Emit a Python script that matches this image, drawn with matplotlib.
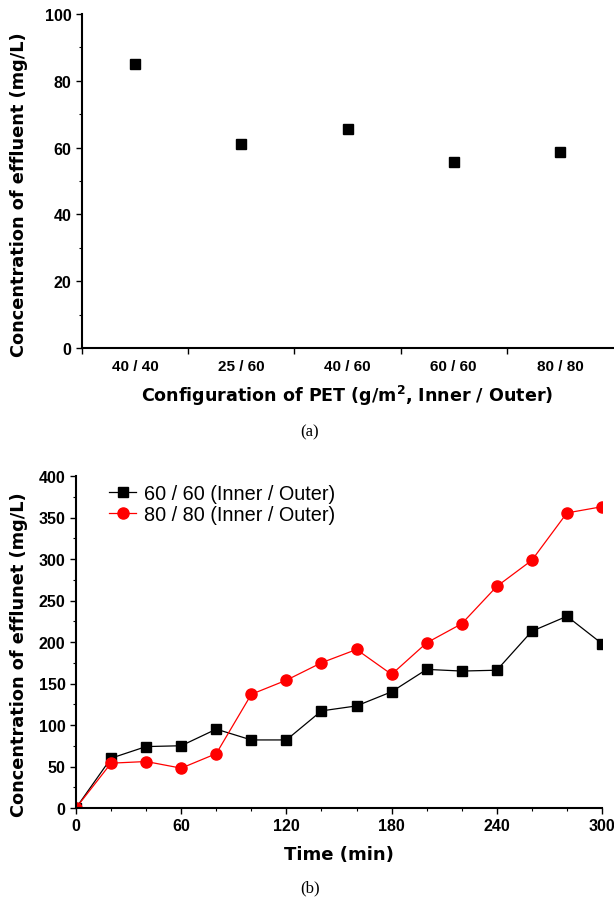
import matplotlib
matplotlib.use("Agg")
import matplotlib.pyplot as plt
from matplotlib.ticker import MultipleLocator, FixedLocator

# ---- data (a) ----
configs = ["40 / 40", "25 / 60", "40 / 60", "60 / 60", "80 / 80"]
effluent = [84.9, 61.1, 65.5, 55.8, 58.8]

# ---- data (b) ----
time_min = [0, 20, 40, 60, 80, 100, 120, 140, 160, 180, 200, 220, 240, 260, 280, 300]
conc_60 = [0, 60, 74, 75, 95, 82, 82, 117, 123, 140, 167, 165, 166, 213, 231, 198]
conc_80 = [0, 54, 56, 48, 65.5, 137, 154, 175, 191, 161, 199, 222, 267, 298.5, 355.5, 363]
legend_labels = ["60 / 60 (Inner / Outer)", "80 / 80 (Inner / Outer)"]

tickfont = ["Liberation Sans", "DejaVu Sans"]
label_font = ["DejaVu Sans"]

fig = plt.figure(figsize=(6.14, 9.04), dpi=100)

# ---------------- (a) ----------------
ax1 = fig.add_axes([82/614, 1-349/904, (613-82)/614, (349-15)/904])
xs = list(range(1, len(configs)+1))
ax1.plot(xs, effluent, linestyle="none", marker="s", color="black", markersize=7.5)
ax1.set_xlim(0.5, len(configs)+0.5)
ax1.set_ylim(0, 100)
ax1.xaxis.set_major_locator(FixedLocator([i+0.5 for i in range(len(configs))]))
ax1.set_xticklabels([])
ax1.set_xticks(xs, minor=True)
ax1.set_xticklabels(configs, minor=True, fontfamily=tickfont, fontweight="bold", fontsize=11)
ax1.tick_params(axis="x", which="minor", length=0, pad=8)
ax1.tick_params(axis="x", which="major", length=4, direction="out", width=1)
ax1.yaxis.set_major_locator(MultipleLocator(20))
ax1.yaxis.set_minor_locator(MultipleLocator(10))
ax1.tick_params(axis="y", which="major", length=4, width=1, direction="out", labelsize=11.5)
ax1.tick_params(axis="y", which="minor", length=2.5, width=0.8, direction="out")
for lab in ax1.get_yticklabels():
    lab.set_fontfamily(tickfont); lab.set_fontweight("bold")
ax1.spines["top"].set_visible(False)
ax1.spines["right"].set_visible(False)
ax1.spines["left"].set_linewidth(1.5)
ax1.spines["bottom"].set_linewidth(1.5)
ax1.set_ylabel("Concentration of effluent (mg/L)", fontsize=12.8, fontweight="bold",
               fontfamily=label_font)
ax1.yaxis.set_label_coords(-0.101, 0.463)
ax1.set_xlabel("Configuration of PET (g/m$^{\\mathbf{2}}$, Inner / Outer)", fontsize=12.6,
               fontweight="bold", fontfamily=label_font, labelpad=7)
fig.text(310/614, 1-432/904, "(a)", fontsize=12, family="Liberation Serif", ha="center", va="center")

# ---------------- (b) ----------------
ax2 = fig.add_axes([76/614, 1-809/904, (602-76)/614, (809-477)/904])
ax2.plot(time_min, conc_60, color="black", marker="s", markersize=7.5, linewidth=0.9,
         label=legend_labels[0])
ax2.plot(time_min, conc_80, color="#ff0000", marker="o", markersize=8, linewidth=0.9,
         label=legend_labels[1])
ax2.set_xlim(0, 300)
ax2.set_ylim(0, 400)
ax2.xaxis.set_major_locator(MultipleLocator(60))
ax2.xaxis.set_minor_locator(MultipleLocator(20))
ax2.yaxis.set_major_locator(MultipleLocator(50))
ax2.yaxis.set_minor_locator(MultipleLocator(25))
ax2.tick_params(which="major", length=4, width=1, direction="out", labelsize=11.5)
ax2.tick_params(which="minor", length=2.5, width=0.8, direction="out")
for lab in ax2.get_xticklabels() + ax2.get_yticklabels():
    lab.set_fontfamily(tickfont); lab.set_fontweight("bold")
ax2.spines["top"].set_visible(False)
ax2.spines["right"].set_visible(False)
ax2.spines["left"].set_linewidth(1.5)
ax2.spines["bottom"].set_linewidth(1.5)
ax2.set_ylabel("Concentration of efflunet (mg/L)", fontsize=12.8, fontweight="bold",
               fontfamily=label_font)
ax2.yaxis.set_label_coords(-0.091, 0.464)
ax2.set_xlabel("Time (min)", fontsize=13, fontweight="bold", fontfamily=label_font, labelpad=8)
leg = ax2.legend(loc="upper left", bbox_to_anchor=(0.028, 1.03), frameon=False,
                 prop={"family": tickfont, "size": 14.3}, handlelength=1.4,
                 handletextpad=0.36, labelspacing=0.1)
fig.text(310/614, 1-888/904, "(b)", fontsize=12, family="Liberation Serif", ha="center", va="center")

fig.savefig("out.png", dpi=100)
